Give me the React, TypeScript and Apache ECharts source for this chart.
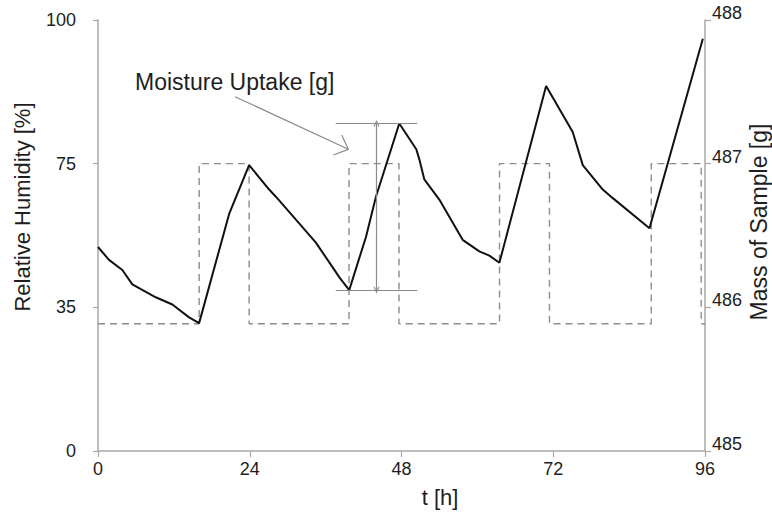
import React, { useEffect, useRef } from "react";
import * as echarts from "echarts";

// Sample mass over time (hours, grams)
const hours = [
  0, 1.74, 3.85, 5.43, 9.13, 11.76, 14.41, 15.99, 20.74, 23.9, 27.07, 28.13, 31.3,
  34.46, 37.09, 38.15, 39.73, 42.38, 43.96, 47.65, 50.34, 50.82, 51.61, 53.98, 57.67,
  60.31, 61.9, 63.48, 70.87, 75.08, 76.67, 79.83, 81.42, 87.22, 95.66,
];
const massGrams = [
  486.42, 486.33, 486.26, 486.16, 486.07, 486.02, 485.93, 485.89, 486.65, 486.99,
  486.82, 486.77, 486.61, 486.45, 486.28, 486.21, 486.12, 486.49, 486.77, 487.28,
  487.1, 487.03, 486.89, 486.75, 486.47, 486.39, 486.36, 486.31, 487.54, 487.22,
  486.99, 486.82, 486.76, 486.55, 487.87,
];

// Relative humidity program: level switches (hours) and the level held from each switch
const rhSwitchHours = [0, 16, 23.9, 39.7, 47.6, 63.5, 71.4, 87.5, 95.4, 96];
const rhLevels = [31, 75, 31, 75, 31, 75, 31, 75, 31, 31];

// Left axis tick labels (evenly spaced on the axis)
const rhTickLabels = [0, 35, 75, 100];
const timeTicks = { min: 0, max: 96, step: 24 };
const massTicks = { min: 485, max: 488, step: 1 };

// Moisture uptake window used for the bracket annotation (hours)
const uptakeWindow = [39.7, 47.7];

const FONT = "'Liberation Sans', Arial, sans-serif";
const AXIS_GREY = "#a8a8a8";
const TEXT = "#1e1e1e";

// map a humidity value onto the evenly spaced left-axis tick positions
function rhToAxis(v: number): number {
  for (let i = 0; i < rhTickLabels.length - 1; i++) {
    const a = rhTickLabels[i];
    const b = rhTickLabels[i + 1];
    if (v <= b) return i + (v - a) / (b - a);
  }
  return rhTickLabels.length - 1;
}

export default function App() {
  const ref = useRef<HTMLDivElement>(null);

  useEffect(() => {
    document.body.style.margin = "0";
    if (!ref.current) return;
    const chart = echarts.init(ref.current, undefined, { renderer: "svg" });

    const massData = hours.map((t, i) => [t, massGrams[i]]);
    const rhData = rhSwitchHours.map((t, i) => [t, rhToAxis(rhLevels[i])]);

    const inWindow = massData.filter(
      (p) => p[0] >= uptakeWindow[0] && p[0] <= uptakeWindow[1]
    );
    const uptakeLow = Math.min(...inWindow.map((p) => p[1]));
    const uptakeHigh = Math.max(...inWindow.map((p) => p[1]));
    const bracketFrom = 37.6;
    const bracketTo = 50.5;
    const arrowAt = 44.05;
    const chevron = "path://M5,0 L10,9 L8.6,10 L5,3.6 L1.4,10 L0,9 Z";

    const axisCommon = {
      axisLine: { show: true, lineStyle: { color: AXIS_GREY, width: 1.5 } },
      axisTick: { show: true, inside: false, lineStyle: { color: AXIS_GREY, width: 1.2 } },
      splitLine: { show: false },
    };

    chart.setOption({
      animation: false,
      textStyle: { fontFamily: FONT },
      grid: { left: 98, right: 67, top: 20, bottom: 66 },
      xAxis: {
        type: "value",
        min: timeTicks.min,
        max: timeTicks.max,
        interval: timeTicks.step,
        ...axisCommon,
        axisTick: { ...axisCommon.axisTick, length: 6 },
        axisLabel: { fontSize: 18, color: TEXT, margin: 9, fontFamily: FONT },
      },
      yAxis: [
        {
          type: "value",
          position: "left",
          min: 0,
          max: rhTickLabels.length - 1,
          interval: 1,
          ...axisCommon,
          axisTick: { ...axisCommon.axisTick, length: 5 },
          axisLabel: {
            fontSize: 18,
            color: TEXT,
            margin: 22,
            fontFamily: FONT,
            formatter: (v: number) => String(rhTickLabels[Math.round(v)]),
          },
        },
        {
          type: "value",
          position: "right",
          min: massTicks.min,
          max: massTicks.max,
          interval: massTicks.step,
          ...axisCommon,
          axisTick: { ...axisCommon.axisTick, length: 6 },
          axisLabel: {
            fontSize: 18,
            color: TEXT,
            margin: 7,
            fontFamily: FONT,
            verticalAlign: "bottom",
            lineHeight: 14,
          },
        },
      ],
      series: [
        {
          name: "Relative Humidity",
          type: "line",
          yAxisIndex: 0,
          step: "end",
          data: rhData,
          symbol: "none",
          silent: true,
          lineStyle: { color: "#8c8c8c", width: 1.4, type: [7, 5] },
          z: 2,
        },
        {
          name: "Mass of Sample",
          type: "line",
          yAxisIndex: 1,
          data: massData,
          symbol: "none",
          silent: true,
          lineStyle: { color: "#111", width: 2 },
          z: 3,
          markLine: {
            silent: true,
            animation: false,
            label: { show: false },
            lineStyle: { color: "#8a8a8a", width: 1.2, type: "solid" },
            symbol: "none",
            data: [
              [{ coord: [bracketFrom, uptakeHigh] }, { coord: [bracketTo, uptakeHigh] }],
              [{ coord: [bracketFrom, uptakeLow] }, { coord: [bracketTo, uptakeLow] }],
              [
                { coord: [arrowAt, uptakeHigh], symbol: chevron, symbolSize: [6, 7] },
                { coord: [arrowAt, uptakeLow], symbol: chevron, symbolSize: [6, 7] },
              ],
            ],
          },
        },
      ],
      graphic: [
        {
          type: "text",
          x: 22,
          y: 207,
          rotation: Math.PI / 2,
          style: {
            text: "Relative Humidity [%]",
            fontSize: 22,
            fontFamily: FONT,
            fill: TEXT,
            align: "center",
            verticalAlign: "middle",
          },
        },
        {
          type: "text",
          x: 759,
          y: 222,
          rotation: Math.PI / 2,
          style: {
            text: "Mass of Sample [g]",
            fontSize: 23,
            fontFamily: FONT,
            fill: TEXT,
            align: "center",
            verticalAlign: "middle",
          },
        },
        {
          type: "text",
          x: 440,
          y: 497,
          style: {
            text: "t [h]",
            fontSize: 22,
            fontFamily: FONT,
            fill: TEXT,
            align: "center",
            verticalAlign: "middle",
          },
        },
        {
          type: "text",
          x: 135,
          y: 82,
          style: {
            text: "Moisture Uptake [g]",
            fontSize: 23,
            fontFamily: FONT,
            fill: TEXT,
            align: "left",
            verticalAlign: "middle",
          },
        },
        {
          type: "line",
          shape: { x1: 235, y1: 96.7, x2: 348.3, y2: 149.3 },
          style: { stroke: "#8a8a8a", lineWidth: 1.2 },
        },
        {
          type: "polyline",
          shape: { points: [[341.7, 135], [348.3, 149.3], [333.3, 155]] },
          style: { stroke: "#8a8a8a", lineWidth: 1.2, fill: "none" },
        },
      ],
    });

    return () => chart.dispose();
  }, []);

  return <div ref={ref} style={{ width: 772, height: 517 }} />;
}
